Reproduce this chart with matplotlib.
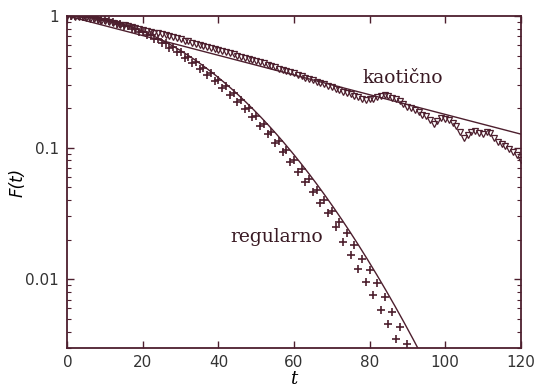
import numpy as np
import matplotlib
matplotlib.use("Agg")
import matplotlib.pyplot as plt
from matplotlib.ticker import FixedLocator, FixedFormatter, LogLocator, NullFormatter

# ---------------- data ----------------
t_chaotic = list(range(0, 121))
F_chaotic = [
    1.000, 0.995, 0.990, 0.982, 0.975, 0.965, 0.955, 0.944, 0.932, 0.921,
    0.908, 0.897, 0.884, 0.872, 0.860, 0.847, 0.835, 0.822, 0.810, 0.797,
    0.785, 0.773, 0.760, 0.749, 0.737, 0.724, 0.713, 0.700, 0.688, 0.676,
    0.664, 0.650, 0.641, 0.628, 0.617, 0.607, 0.595, 0.584, 0.574, 0.562,
    0.548, 0.540, 0.528, 0.519, 0.510, 0.498, 0.492, 0.480, 0.473, 0.462,
    0.455, 0.444, 0.438, 0.426, 0.419, 0.410, 0.398, 0.392, 0.380, 0.372,
    0.366, 0.354, 0.350, 0.340, 0.330, 0.327, 0.315, 0.310, 0.302, 0.292,
    0.288, 0.278, 0.273, 0.266, 0.258, 0.254, 0.245, 0.243, 0.236, 0.230,
    0.233, 0.236, 0.242, 0.248, 0.252, 0.247, 0.240, 0.236, 0.225, 0.214,
    0.205, 0.200, 0.192, 0.186, 0.178, 0.174, 0.162, 0.152, 0.160, 0.168,
    0.166, 0.162, 0.155, 0.146, 0.132, 0.118, 0.125, 0.131, 0.133, 0.130,
    0.127, 0.132, 0.128, 0.118, 0.111, 0.106, 0.103, 0.097, 0.093, 0.088,
    0.081,
]

t_regular = list(range(0, 91))
F_regular = [
    1.000, 0.999, 0.997, 0.993, 0.989, 0.981, 0.975, 0.963, 0.956, 0.940,
    0.933, 0.910, 0.905, 0.876, 0.873, 0.839, 0.837, 0.798, 0.799, 0.755,
    0.758, 0.711, 0.715, 0.666, 0.670, 0.620, 0.625, 0.573, 0.580, 0.528,
    0.535, 0.483, 0.491, 0.440, 0.448, 0.398, 0.406, 0.358, 0.366, 0.321,
    0.329, 0.286, 0.293, 0.253, 0.260, 0.223, 0.229, 0.195, 0.201, 0.170,
    0.175, 0.147, 0.152, 0.126, 0.131, 0.108, 0.112, 0.0922, 0.0955, 0.0780,
    0.0810, 0.0657, 0.0683, 0.0550, 0.0573, 0.0460, 0.0478, 0.0377, 0.0397, 0.0316,
    0.0328, 0.0250, 0.0270, 0.0192, 0.0223, 0.0152, 0.0181, 0.0120, 0.0143, 0.0095,
    0.0117, 0.0076, 0.0093, 0.0058, 0.0073, 0.0046, 0.0056, 0.00354, 0.0043, 0.0027,
    0.0032,
]

# fitted curves (parameters)
chaotic_tau = 58.1      # F = exp(-t/tau)
regular_tau = 38.5      # F = exp(-(t/tau)^2)

x_ticks = [0, 20, 40, 60, 80, 100, 120]
y_ticks = [0.01, 0.1, 1]
y_tick_labels = ["0.01", "0.1", "1"]

# ---------------- drawing ----------------
col = "#4d1f2e"

fig = plt.figure(figsize=(5.39, 3.87), dpi=100)
ax = fig.add_axes([0.1252, 0.1008, 0.8405, 0.8579])
ax.set_yscale("log")
ax.set_xlim(0, 120)
ax.set_ylim(0.003, 1.0)

tt = np.linspace(0, 120, 600)
ax.plot(tt, np.exp(-tt / chaotic_tau), color=col, lw=1.0)
ax.plot(tt, np.exp(-(tt / regular_tau) ** 2), color=col, lw=1.0)

ax.plot(t_chaotic, F_chaotic, linestyle="none", marker="v", markersize=4.2,
        markerfacecolor="none", markeredgecolor=col, markeredgewidth=0.9)
ax.plot(t_regular, F_regular, linestyle="none", marker="+", markersize=6,
        markeredgecolor=col, markeredgewidth=1.2)

ax.xaxis.set_major_locator(FixedLocator(x_ticks))
ax.yaxis.set_major_locator(FixedLocator(y_ticks))
ax.yaxis.set_major_formatter(FixedFormatter(y_tick_labels))
ax.yaxis.set_minor_locator(LogLocator(base=10, subs=np.arange(2, 10)))
ax.yaxis.set_minor_formatter(NullFormatter())

ax.tick_params(axis="both", which="major", direction="in", length=5, width=1.0,
               color=col, top=True, right=True, labelsize=11, labelcolor="#333333", pad=6)
ax.tick_params(axis="x", which="major", pad=5)
ax.tick_params(axis="y", which="minor", direction="in", length=3, width=0.8,
               color=col, right=True)
for s in ax.spines.values():
    s.set_color(col)
    s.set_linewidth(1.3)

ax.set_xlabel("t", fontsize=13, style="italic", family="DejaVu Serif", labelpad=0)
ax.set_ylabel("F(t)", fontsize=12, style="italic", labelpad=-1)

ax.text(88.9, 0.34, "kaotično", fontsize=13.5, family="DejaVu Serif", color="#3a1a24",
        ha="center", va="center")
ax.text(55.3, 0.0209, "regularno", fontsize=13.5, family="DejaVu Serif", color="#3a1a24",
        ha="center", va="center")

fig.savefig("out.png", dpi=100)
